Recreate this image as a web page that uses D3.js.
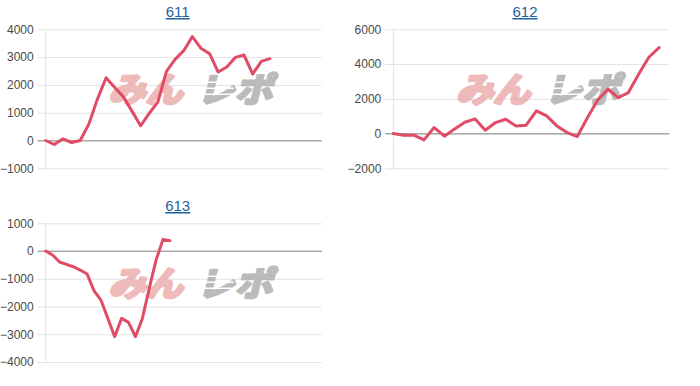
<!DOCTYPE html>
<html>
<head>
<meta charset="utf-8">
<script src="https://cdn.jsdelivr.net/npm/d3@7/dist/d3.min.js"></script>
<style>
  html, body { margin: 0; padding: 0; background: #fff; }
  svg { display: block; }
</style>
</head>
<body>
<script>
// ---- data ----
const titles = ["611", "612", "613"];
const values611 = [0, -144, 60, -72, 0, 589, 1490, 2258, 1910, 1574, 1057, 529, 973, 1381, 2486, 2919, 3231, 3736, 3315, 3123, 2462, 2643, 2991, 3075, 2390, 2847, 2943];
const values612 = [0, -96, -96, -364, 345, -153, 268, 652, 843, 192, 633, 824, 441, 479, 1303, 1016, 441, 58, -172, 920, 1936, 2549, 2070, 2358, 3412, 4390, 4945];
const values613 = [0, -144, -396, -480, -565, -685, -829, -1429, -1766, -2426, -3087, -2426, -2570, -3087, -2438, -1357, -324, 420, 372];
const xDomainMax = [32, 27, 40];
const ticks611 = [-1000, 0, 1000, 2000, 3000, 4000];
const ticks612 = [-2000, 0, 2000, 4000, 6000];
const ticks613 = [-4000, -3000, -2000, -1000, 0, 1000];

const seriesList = [values611, values612, values613];
const tickList = [ticks611, ticks612, ticks613];

// ---- layout ----
const W = 700, H = 386;
const panels = [
  { left: 45.7, right: 321.7, top: 29.3, bottom: 168.3, titleX: 177.7, titleY: 17 },
  { left: 393.3, right: 669.3, top: 29.3, bottom: 168.3, titleX: 525, titleY: 17 },
  { left: 45.7, right: 321.7, top: 223.3, bottom: 362, titleX: 177.7, titleY: 211 }
];

const svg = d3.select("body").append("svg").attr("width", W).attr("height", H);

panels.forEach((p, i) => {
  const vals = seriesList[i];
  const ticks = tickList[i];
  const x = d3.scaleLinear().domain([0, xDomainMax[i]]).range([p.left, p.right]);
  const y = d3.scaleLinear().domain(d3.extent(ticks)).range([p.bottom, p.top]);
  const g = svg.append("g");

  // title
  g.append("text")
    .attr("x", p.titleX).attr("y", p.titleY)
    .attr("text-anchor", "middle")
    .attr("font-family", "Liberation Sans, Arial, sans-serif")
    .attr("font-size", 15)
    .attr("fill", "#1f5f9f")
    .attr("text-decoration", "underline")
    .text(titles[i]);

  // gridlines
  const axis = d3.axisLeft(y).tickValues(ticks).tickSize(-(p.right - p.left + 8)).tickPadding(4).tickFormat(d3.format("d"));
  const ag = g.append("g").attr("transform", `translate(${p.left - 8},0)`).call(axis);
  ag.select(".domain").remove();
  ag.selectAll(".tick line").attr("stroke", d => d === 0 ? "#a8a8a8" : "#e3e3e3").attr("stroke-width", 1);
  ag.selectAll(".tick text")
    .attr("font-family", "Liberation Sans, Arial, sans-serif")
    .attr("font-size", 12)
    .attr("fill", "#4a4a4a");

  // left vertical line
  g.append("line")
    .attr("x1", p.left).attr("x2", p.left)
    .attr("y1", p.top).attr("y2", p.bottom)
    .attr("stroke", "#e3e3e3");
  g.append("line")
    .attr("x1", p.left - 8).attr("x2", p.right)
    .attr("y1", y(0)).attr("y2", y(0))
    .attr("stroke", "#a8a8a8");

  // watermark
  const wx = p.left + 66, wy = p.top + 45;
  const wm = g.append("g").attr("transform", `translate(${wx},${wy})`);
  wm.append("text")
    .attr("x", 4).attr("y", 28)
    .attr("transform", "skewX(-14)")
    .attr("font-family", "Noto Sans CJK JP, sans-serif")
    .attr("font-weight", 700)
    .attr("font-size", 34)
    .attr("textLength", 74).attr("lengthAdjust", "spacingAndGlyphs")
    .attr("fill", "#e9a3a3").attr("stroke", "#e9a3a3").attr("stroke-width", 3.2)
    .attr("stroke-linejoin", "round")
    .attr("opacity", 0.75)
    .text("みん");
  wm.append("text")
    .attr("x", 92).attr("y", 28)
    .attr("transform", "skewX(-14)")
    .attr("font-family", "Noto Sans CJK JP, sans-serif")
    .attr("font-weight", 700)
    .attr("font-size", 34)
    .attr("textLength", 76).attr("lengthAdjust", "spacingAndGlyphs")
    .attr("fill", "#b0b0b0").attr("stroke", "#b0b0b0").attr("stroke-width", 2.6)
    .attr("stroke-linejoin", "round")
    .attr("opacity", 0.85)
    .text("レポ");
  [8, 14, 20].forEach(yy => {
    wm.append("line")
      .attr("x1", 84).attr("x2", 122)
      .attr("y1", yy).attr("y2", yy)
      .attr("stroke", "#fff").attr("stroke-width", 1.4);
  });

  // line
  const line = d3.line().x((d, k) => x(k)).y(d => y(d));
  g.append("path")
    .datum(vals)
    .attr("d", line)
    .attr("fill", "none")
    .attr("stroke", "#e04b66")
    .attr("stroke-width", 3)
    .attr("stroke-linejoin", "round")
    .attr("stroke-linecap", "round");
});
</script>
</body>
</html>
